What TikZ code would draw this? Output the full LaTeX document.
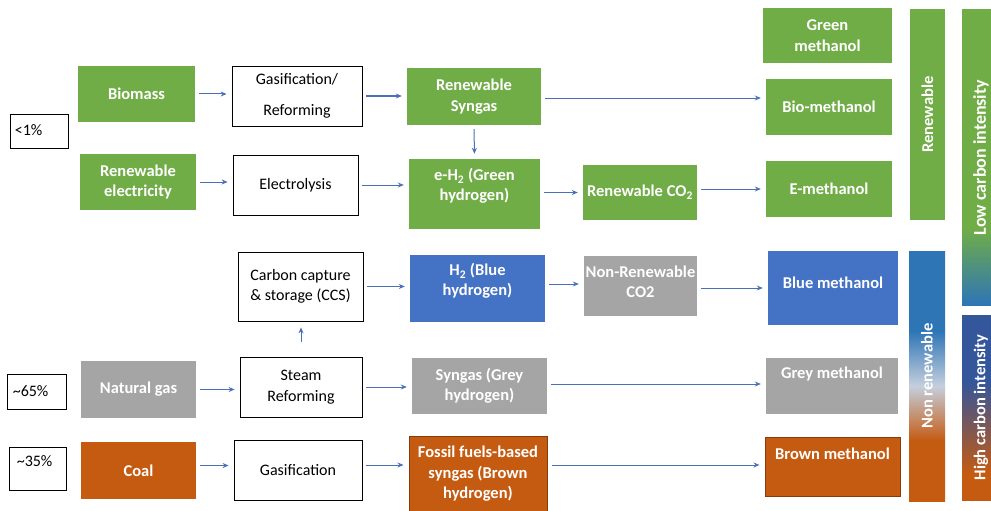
\documentclass[tikz,border=0pt]{standalone}
\usepackage{fontspec}
\setmainfont{Carlito}
\usetikzlibrary{arrows.meta,calc}
\definecolor{cgreen}{HTML}{70AD47}
\definecolor{cgray}{HTML}{A5A5A5}
\definecolor{cblue}{HTML}{4472C4}
\definecolor{corange}{HTML}{C55A11}
\definecolor{cbrownline}{HTML}{843C0C}
\definecolor{arrowc}{HTML}{4A70B8}
\definecolor{shblue}{HTML}{2E75B6}
\definecolor{shdark}{HTML}{34569A}
\definecolor{shpale}{HTML}{C4CFDD}
\pgfdeclareverticalshading{lowcish}{100bp}{color(0bp)=(shblue); color(25bp)=(shblue); color(38bp)=(cgreen); color(100bp)=(cgreen)}
\pgfdeclareverticalshading{nonrensh}{100bp}{color(0bp)=(corange); color(37bp)=(corange); color(48bp)=(shpale); color(59bp)=(shblue); color(100bp)=(shblue)}
\pgfdeclareverticalshading{highcish}{100bp}{color(0bp)=(corange); color(32bp)=(corange); color(57bp)=(shdark); color(100bp)=(shdark)}
\tikzset{
  box/.style={rectangle, inner sep=0pt, align=center, font=\fontsize{16}{20.5}\selectfont},
  wbox/.style={box, draw=black, line width=0.8pt, fill=white, text=black},
  fbox/.style={box, font=\bfseries\fontsize{16.5}{20.5}\selectfont, text=white},
  ftext/.style={inner sep=0pt, align=center, text=white, font=\bfseries\fontsize{16.5}{20.5}\selectfont},
  wtext/.style={inner sep=0pt, align=center, text=black, font=\fontsize{16}{20.5}\selectfont},
  vtext/.style={ftext, rotate=90},
  arr/.style={draw=arrowc, line width=1pt, -{Stealth[length=6pt,width=5pt]}, shorten <=4pt, shorten >=5pt},
}
\begin{document}
\begin{tikzpicture}[x=1pt,y=-1pt]
\useasboundingbox (0,0) rectangle (991,511);
\clip (0,0) rectangle (991,511);
\fill[white] (0,0) rectangle (991,511);

% percentage boxes
\node[wbox, minimum width=58, minimum height=34] (pct1) at (39,131) {};
\node[wtext, anchor=west] (pct1T) at ($(pct1.west)+(5,-1)$) {<1\%};
\node[wbox, minimum width=59, minimum height=35] (pct65) at (36.5,391.5) {};
\node[wtext, anchor=west] (pct65T) at ($(pct65.west)+(6,0)$) {\textasciitilde65\%};
\node[wbox, minimum width=57, minimum height=43] (pct35) at (37.5,468.5) {};
\node[wtext, anchor=west] (pct35T) at ($(pct35.west)+(8,-7)$) {\textasciitilde35\%};

% feedstocks
\node[fbox, fill=cgreen, minimum width=117, minimum height=56] (biomass) at (136.5,94) {Biomass};
\node[fbox, fill=cgreen, minimum width=116, minimum height=56] (relec) at (138,182) {Renewable\\electricity};
\node[fbox, fill=cgray, minimum width=115, minimum height=57] (natgas) at (138.5,389.5) {Natural gas};
\node[fbox, fill=corange, minimum width=115, minimum height=57] (coal) at (138.5,470.5) {Coal};

% processes
\node[wbox, minimum width=130, minimum height=60] (gasref) at (297,96) {Gasification/\\[10pt]Reforming};
\node[wbox, minimum width=125, minimum height=60] (electro) at (295.5,185) {Electrolysis};
\node[wbox, minimum width=125, minimum height=69] (ccs) at (300.5,286.5) {Carbon capture\\\& storage (CCS)};
\node[wbox, minimum width=122, minimum height=60] (steam) at (301,387) {Steam\\Reforming};
\node[wbox, minimum width=128, minimum height=60] (gasif) at (298,470) {Gasification};

% intermediates
\node[fbox, fill=cgreen, minimum width=134, minimum height=57] (rsyngas) at (474,96.5) {Renewable\\Syngas};
\node[fbox, fill=cgreen, minimum width=131, minimum height=70] (eh2) at (474.5,194) {};
\node[ftext] (eh2T) at (474.5,186) {e-H\textsubscript{2} (Green\\hydrogen)};
\node[fbox, fill=cblue, minimum width=135, minimum height=67] (bh2) at (477.5,288.5) {};
\node[ftext] (bh2T) at (477.5,281) {H\textsubscript{2} (Blue\\hydrogen)};
\node[fbox, fill=cgray, minimum width=135, minimum height=56] (greysyn) at (479.5,386) {Syngas (Grey\\hydrogen)};
\node[fbox, fill=corange, draw=cbrownline, line width=1pt, minimum width=138, minimum height=76] (fossil) at (478,474) {Fossil fuels-based\\syngas (Brown\\hydrogen)};

\node[fbox, fill=cgreen, minimum width=114, minimum height=55] (rco2) at (640,192.5) {Renewable CO\textsubscript{2}};
\node[fbox, fill=cgray, minimum width=113, minimum height=60] (nrco2) at (640.5,286) {};
\node[ftext] (nrco2T) at (640.5,282) {Non-Renewable\\CO2};

% methanol products
\node[fbox, fill=cgreen, minimum width=129, minimum height=55] (greenmeth) at (827.5,35.5) {Green\\methanol};
\node[fbox, fill=cgreen, minimum width=126, minimum height=56] (biometh) at (829,107) {Bio-methanol};
\node[fbox, fill=cgreen, minimum width=126, minimum height=56] (emeth) at (829,189) {E-methanol};
\node[fbox, fill=cblue, minimum width=130, minimum height=74] (bluemeth) at (833,288) {};
\node[ftext] (bluemethT) at (833,283) {Blue methanol};
\node[fbox, fill=cgray, minimum width=132, minimum height=56] (greymeth) at (832,386) {};
\node[ftext] (greymethT) at (832,374) {Grey methanol};
\node[fbox, fill=corange, draw=cbrownline, line width=1pt, minimum width=135, minimum height=59] (brownmeth) at (832.5,466.5) {};
\node[ftext] (brownmethT) at (832.5,454) {Brown methanol};

% category bars
\node[fbox, fill=cgreen, minimum width=35, minimum height=211] (renew) at (927.5,114.5) {};
\node[vtext] (renewT) at (renew.center) {Renewable};
\node[inner sep=0pt, shading=nonrensh, minimum width=36, minimum height=250] (nonren) at (927,376) {};
\node[vtext] (nonrenT) at (nonren.center) {Non renewable};
\node[inner sep=0pt, shading=lowcish, minimum width=38, minimum height=295] (lowci) at (981,157.5) {};
\node[vtext, font=\bfseries\fontsize{18}{20}\selectfont] (lowciT) at (lowci.center) {Low carbon intensity};
\node[inner sep=0pt, shading=highcish, minimum width=38, minimum height=185] (highci) at (981,407.5) {};
\node[vtext] (highciT) at (highci.center) {High carbon intensity};

% connectors
\draw[arr] (biomass.east) -- (biomass.east -| gasref.west);
\draw[arr] (gasref.east) -- (gasref.east -| rsyngas.west);
\draw[arr] ($(rsyngas.east)+(0,1.5)$) -- ($(rsyngas.east -| biometh.west)+(0,1.5)$);
\draw[arr] (rsyngas.south) -- (eh2.north);
\draw[arr] (relec.east) -- (relec.east -| electro.west);
\draw[arr] (electro.east) -- (electro.east -| eh2.west);
\draw[arr] (rco2.west -| eh2.east) -- (rco2.west);
\draw[arr] (emeth.west -| rco2.east) -- (emeth.west);
\draw[arr] (ccs.east) -- (ccs.east -| bh2.west);
\draw[arr] ($(nrco2.west -| bh2.east)+(0,-2)$) -- ($(nrco2.west)+(0,-2)$);
\draw[arr] (bluemeth.west -| nrco2.east) -- (bluemeth.west);
\draw[arr, shorten <=15pt, shorten >=6pt] (steam.north) -- (steam.north |- ccs.south);
\draw[arr] (natgas.east) -- (natgas.east -| steam.west);
\draw[arr] (steam.east) -- (steam.east -| greysyn.west);
\draw[arr] ($(greysyn.east)+(0,-2)$) -- ($(greysyn.east -| greymeth.west)+(0,-2)$);
\draw[arr] ($(coal.east)+(0,-5)$) -- ($(coal.east -| gasif.west)+(0,-5)$);
\draw[arr] ($(gasif.east)+(0,-5)$) -- ($(gasif.east -| fossil.west)+(0,-5)$);
\draw[arr] ($(fossil.east)+(0,-9)$) -- ($(fossil.east -| brownmeth.west)+(0,-9)$);
\end{tikzpicture}
\end{document}
